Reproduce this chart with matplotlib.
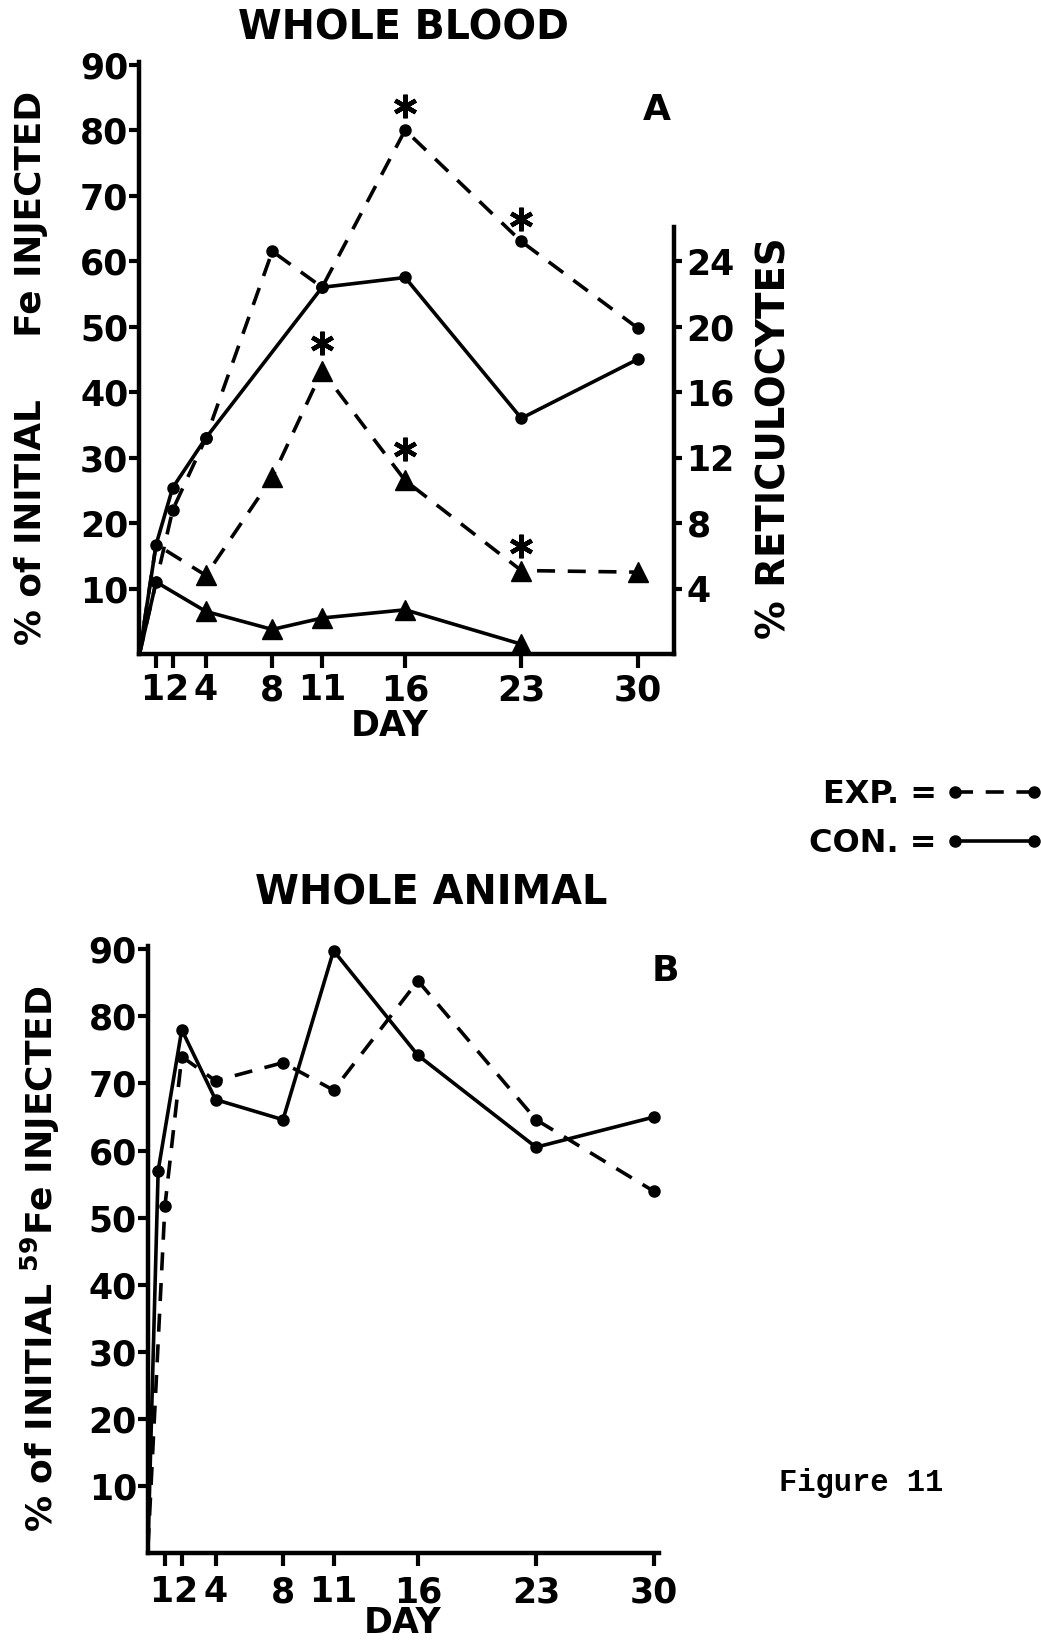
import matplotlib
matplotlib.use("Agg")
import matplotlib.pyplot as plt
import matplotlib.transforms as mtransforms
from matplotlib.lines import Line2D

plt.rcParams['font.family'] = ['DejaVu Sans']
plt.rcParams['font.weight'] = 'bold'
plt.rcParams['mathtext.fontset'] = 'custom'
plt.rcParams['mathtext.bf'] = 'DejaVu Sans:bold'
plt.rcParams['mathtext.rm'] = 'DejaVu Sans:bold'

# ---------------- data ----------------
day_ticks = [1, 2, 4, 8, 11, 16, 23, 30]

# Panel A: whole blood (% of initial Fe injected)
a_exp_days = [0, 1, 2, 4, 8, 11, 16, 23, 30]
a_exp_fe = [0, 11, 22, 33, 61.5, 56, 80, 63, 49.8]
a_con_days = [0, 1, 2, 4, 11, 16, 23, 30]
a_con_fe = [0, 16.7, 25.4, 33, 56, 57.5, 36, 45]

# Panel A: % reticulocytes (right axis)
ret_exp_days = [0, 1, 4, 8, 11, 16, 23, 30]
ret_exp = [0, 6.7, 4.8, 10.8, 17.3, 10.6, 5.1, 5.0]
ret_con_days = [0, 1, 4, 8, 11, 16, 23]
ret_con = [0, 4.4, 2.6, 1.5, 2.2, 2.7, 0.6]

# significance asterisks
star_fe_days = [16, 23]
star_fe_vals = [83.7, 66.4]
star_ret_days = [11, 16, 23]
star_ret_vals = [19.0, 12.5, 6.6]

# Panel B: whole animal
b_exp_days = [0, 1, 2, 4, 8, 11, 16, 23, 30]
b_exp = [1, 51.7, 74, 70.4, 73.1, 69, 85.3, 64.6, 53.9]
b_con_days = [0, 0.6, 2, 4, 8, 11, 16, 23, 30]
b_con = [1, 57, 78, 67.6, 64.6, 89.8, 74.2, 60.5, 65]

left_ticks = [10, 20, 30, 40, 50, 60, 70, 80, 90]
ret_ticks = [4, 8, 12, 16, 20, 24]

# ---------------- styling ----------------
LW = 2.6
DASH = (0, (5, 3.5))
FS_TICK = 25

fig = plt.figure(figsize=(10.41, 16.42), dpi=100)


def style_axis(ax, xlim, ylim, xtick_len, xpad):
    ax.set_xlim(*xlim)
    ax.set_ylim(*ylim)
    for s in ['top', 'right']:
        ax.spines[s].set_visible(False)
    for s in ['left', 'bottom']:
        ax.spines[s].set_linewidth(3.2)
    ax.set_xticks(day_ticks)
    ax.set_xticklabels([str(d) for d in day_ticks])
    ax.set_yticks(left_ticks)
    ax.set_yticklabels([str(v) for v in left_ticks])
    ax.tick_params(axis='x', direction='out', length=xtick_len, width=3,
                   pad=xpad, labelsize=FS_TICK)
    ax.tick_params(axis='y', direction='out', length=7, width=3,
                   pad=1, labelsize=FS_TICK)
    for t in ax.get_xticklabels() + ax.get_yticklabels():
        t.set_fontweight('bold')
    # the crowded "1" and "2" labels: nudge apart a little
    labs = ax.get_xticklabels()
    for lab, dx in ((labs[0], -4), (labs[1], 4)):
        lab.set_transform(lab.get_transform() +
                          mtransforms.ScaledTranslation(dx / 100, 0,
                                                        fig.dpi_scale_trans))


# ---------- Panel A ----------
axA = fig.add_axes([0.134, 0.6017, 0.5135, 0.3605])
style_axis(axA, (0, 32.2), (0, 90.4), 10, 4)
axA.spines['left'].set_bounds(0, 90.4)

axA.plot(a_exp_days, a_exp_fe, color='black', lw=LW, linestyle=DASH,
         marker='o', ms=8, markevery=slice(1, None), clip_on=False)
axA.plot(a_con_days, a_con_fe, color='black', lw=LW, linestyle='-',
         marker='o', ms=8, markevery=slice(1, None), clip_on=False)
axA.plot(star_fe_days, star_fe_vals, linestyle='none', marker=(6, 2, 0),
         ms=17, mew=3.2, color='black', clip_on=False)

axR = axA.twinx()
axR.set_ylim(0, 90.4 / 2.5)
for s in ['top', 'left', 'bottom']:
    axR.spines[s].set_visible(False)
axR.spines['right'].set_linewidth(3.2)
axR.spines['right'].set_bounds(0, 26.1)
axR.set_yticks(ret_ticks)
axR.set_yticklabels([str(v) for v in ret_ticks])
axR.tick_params(axis='y', direction='out', length=6, width=3, pad=3,
                labelsize=FS_TICK)
for t in axR.get_yticklabels():
    t.set_fontweight('bold')

axR.plot(ret_exp_days, ret_exp, color='black', lw=LW, linestyle=DASH,
         marker='^', ms=15, markevery=slice(2, None), clip_on=False)
axR.plot(ret_con_days, ret_con, color='black', lw=LW, linestyle='-',
         marker='^', ms=15, markevery=slice(2, None), clip_on=False)
axR.plot(star_ret_days, star_ret_vals, linestyle='none', marker=(6, 2, 0),
         ms=17, mew=3.2, color='black', clip_on=False)

fig.text(403 / 1041, 1 - 28 / 1642, 'WHOLE BLOOD', ha='center', va='center',
         fontsize=28.5, fontweight='bold')
fig.text(657 / 1041, 1 - 110 / 1642, 'A', ha='center', va='center',
         fontsize=26, fontweight='bold')
fig.text(390 / 1041, 1 - 726 / 1642, 'DAY', ha='center', va='center',
         fontsize=25, fontweight='bold')
fig.text(31 / 1041, 1 - 368 / 1642, '% of INITIAL     Fe INJECTED',
         ha='center', va='center', rotation=90, fontsize=25.8,
         fontweight='bold')
fig.text(775 / 1041, 1 - 438 / 1642, '% RETICULOCYTES', ha='center',
         va='center', rotation=90, fontsize=27.8, fontweight='bold')

# ---------- legend ----------
h_exp = Line2D([], [], color='black', lw=LW, linestyle=DASH, marker='o', ms=8)
h_con = Line2D([], [], color='black', lw=LW, linestyle='-', marker='o', ms=8)
fig.legend([h_exp, h_con], ['EXP. =', 'CON. ='], loc='center right',
           bbox_to_anchor=(1044 / 1041, 1 - 819 / 1642), markerfirst=False,
           numpoints=2, frameon=False, handlelength=3.1, handletextpad=0.25,
           labelspacing=0.58, borderpad=0, borderaxespad=0,
           prop={'size': 23, 'weight': 'bold'})

# ---------- Panel B ----------
axB = fig.add_axes([0.1422, 0.0542, 0.491, 0.3697])
style_axis(axB, (0, 30.3), (0, 90.5), 9, 7)
axB.spines['left'].set_bounds(0, 90.5)

axB.plot(b_exp_days, b_exp, color='black', lw=LW, linestyle=DASH,
         marker='o', ms=8, markevery=slice(1, None), clip_on=False)
axB.plot(b_con_days, b_con, color='black', lw=LW, linestyle='-',
         marker='o', ms=8, markevery=slice(1, None), clip_on=False)

fig.text(431 / 1041, 1 - 893 / 1642, 'WHOLE ANIMAL', ha='center',
         va='center', fontsize=28.7, fontweight='bold')
fig.text(665 / 1041, 1 - 971 / 1642, 'B', ha='center', va='center',
         fontsize=26, fontweight='bold')
fig.text(403 / 1041, 1 - 1623 / 1642, 'DAY', ha='center', va='center',
         fontsize=25, fontweight='bold')
fig.text(40 / 1041, 1 - 1259 / 1642, r'% of INITIAL $^{\mathbf{59}}$Fe INJECTED',
         ha='center', va='center', rotation=90, fontsize=26,
         fontweight='bold')

fig.text(861 / 1041, 1 - 1483 / 1642, 'Figure 11', ha='center', va='center',
         fontsize=22, fontweight='bold', family='Liberation Mono')

fig.savefig('out.png', dpi=100)
